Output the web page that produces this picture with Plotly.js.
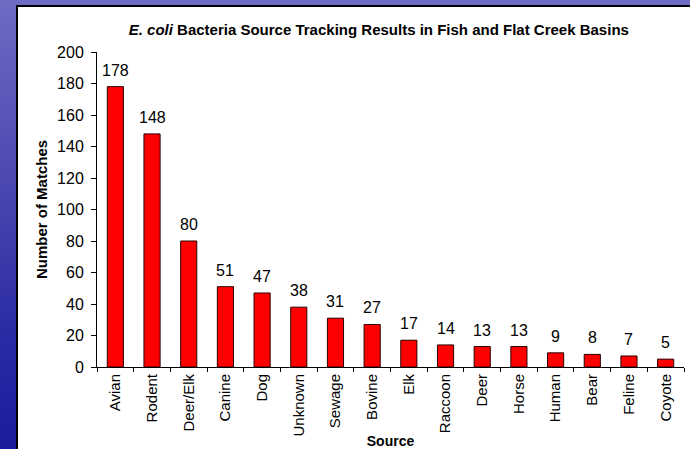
<!DOCTYPE html>
<html>
<head>
<meta charset="utf-8">
<script src="https://cdn.plot.ly/plotly-3.0.1.min.js"></script>
<style>
  html, body { margin: 0; padding: 0; }
  body {
    width: 690px; height: 449px; overflow: hidden; position: relative;
    background: linear-gradient(to bottom, #6d6bc2 0%, #4b49b1 40%, #2a2aa4 75%, #1b1b9d 100%);
  }
  #panel {
    position: absolute; left: 16px; top: 5px; width: 700px; height: 470px;
    background: #ffffff; border: 2px solid #000000; box-sizing: border-box;
  }
  #chart { position: absolute; left: 0; top: 0; width: 690px; height: 449px; }
</style>
</head>
<body>
<div id="panel"></div>
<div id="chart"></div>
<script>
// Source categories and match counts
const sources = ["Avian", "Rodent", "Deer/Elk", "Canine", "Dog", "Unknown", "Sewage", "Bovine",
                 "Elk", "Raccoon", "Deer", "Horse", "Human", "Bear", "Feline", "Coyote"];
const matches = [178, 148, 80, 51, 47, 38, 31, 27, 17, 14, 13, 13, 9, 8, 7, 5];
const yTicks = [0, 20, 40, 60, 80, 100, 120, 140, 160, 180, 200];

const FONT = "'Liberation Sans', Arial, sans-serif";

const bars = {
  type: "bar",
  x: sources,
  y: matches,
  marker: { color: "#ff0000", line: { color: "#2a0000", width: 1 } },
  hoverinfo: "x+y"
};

// value labels sit above each bar
const valueLabels = sources.map((s, i) => ({
  x: s, y: matches[i], xref: "x", yref: "y",
  text: String(matches[i]), showarrow: false,
  yanchor: "bottom", yshift: 6,
  font: { family: FONT, size: 16, color: "#000000" }
}));

const layout = {
  width: 690, height: 449,
  margin: { l: 97, r: 6, t: 52, b: 82 },
  paper_bgcolor: "rgba(0,0,0,0)",
  plot_bgcolor: "rgba(0,0,0,0)",
  showlegend: false,
  bargap: 0.56,
  font: { family: FONT, color: "#000000" },
  title: {
    text: "<b><i>E. coli</i> Bacteria Source Tracking Results in Fish and Flat Creek Basins</b>",
    font: { family: FONT, size: 15, color: "#000000" },
    xref: "container", x: 0.549, xanchor: "center",
    yref: "container", y: 1 - 30 / 449, yanchor: "middle"
  },
  xaxis: {
    type: "category",
    showline: true, linecolor: "#000000", linewidth: 1,
    ticks: "outside", tickson: "boundaries", ticklen: 4, tickcolor: "#000000",
    tickangle: -90,
    tickfont: { family: FONT, size: 15, color: "#000000" },
    showgrid: false, zeroline: false,
    title: { text: "<b>Source</b>", font: { family: FONT, size: 14 }, standoff: 2 }
  },
  yaxis: {
    range: [0, 200],
    tickvals: yTicks,
    showline: true, linecolor: "#000000", linewidth: 1,
    ticks: "outside", ticklen: 5, tickcolor: "#000000",
    ticklabelstandoff: 4,
    tickfont: { family: FONT, size: 16, color: "#000000" },
    showgrid: false, zeroline: false,
    title: { text: "<b>Number of Matches</b>", font: { family: FONT, size: 15 }, standoff: 5 }
  },
  annotations: valueLabels
};

Plotly.newPlot("chart", [bars], layout, { displayModeBar: false, staticPlot: true });
</script>
</body>
</html>
